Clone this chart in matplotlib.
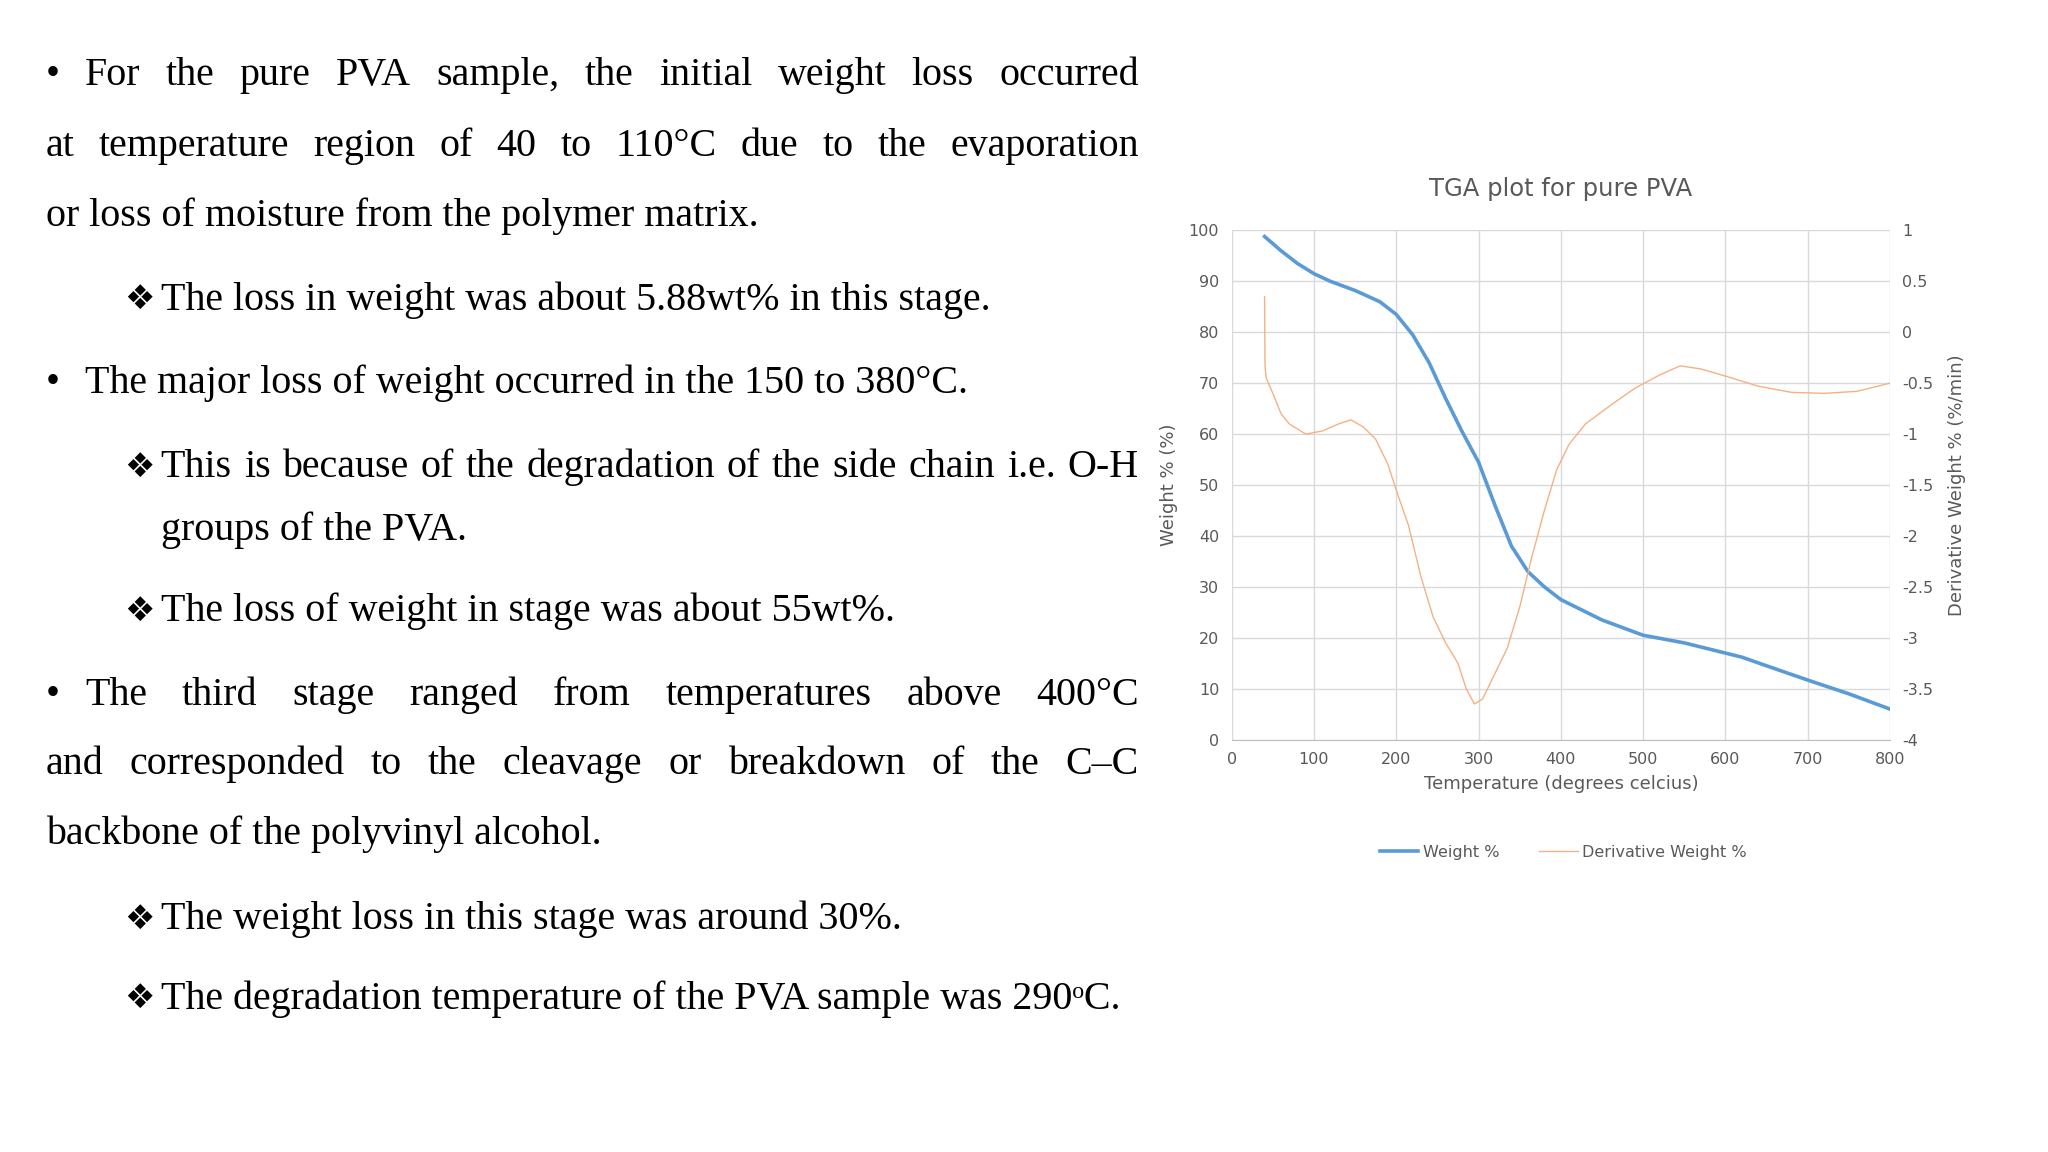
import matplotlib
matplotlib.use("Agg")
import matplotlib.pyplot as plt

temp_w = [40, 60, 80, 100, 120, 150, 180, 200, 220, 240, 260, 280, 300, 320, 340, 360, 380, 400, 450, 500, 550, 600, 620, 650, 700, 750, 800]
weight = [98.8, 96, 93.5, 91.5, 90, 88.2, 86, 83.5, 79.5, 74, 67, 60.5, 54.5, 46, 38, 33, 30, 27.5, 23.5, 20.5, 19, 17, 16.2, 14.5, 11.7, 9, 6]
temp_d = [40, 40.5, 42, 50, 60, 70, 90, 110, 130, 145, 160, 175, 190, 200, 215, 230, 245, 260, 275, 285, 295, 305, 320, 335, 350, 365, 380, 395, 410, 430, 460, 490, 520, 545, 570, 600, 640, 680, 720, 760, 800]
deriv = [0.35, -0.33, -0.45, -0.6, -0.8, -0.9, -1.0, -0.97, -0.9, -0.86, -0.93, -1.05, -1.3, -1.55, -1.9, -2.4, -2.8, -3.05, -3.25, -3.5, -3.65, -3.6, -3.35, -3.1, -2.7, -2.2, -1.75, -1.35, -1.1, -0.9, -0.72, -0.55, -0.42, -0.33, -0.36, -0.43, -0.53, -0.59, -0.6, -0.58, -0.5]
x_ticks = [0, 100, 200, 300, 400, 500, 600, 700, 800]
yl_ticks = [0, 10, 20, 30, 40, 50, 60, 70, 80, 90, 100]
yr_ticks = [-4, -3.5, -3, -2.5, -2, -1.5, -1, -0.5, 0, 0.5, 1]

paragraphs = [
    ("bullet", ["For the pure PVA sample, the initial weight loss occurred",
                "at temperature region of 40 to 110°C due to the evaporation",
                "or loss of moisture from the polymer matrix."]),
    ("sub", ["The loss in weight was about 5.88wt% in this stage."]),
    ("bullet", ["The major loss of weight occurred in the 150 to 380°C."]),
    ("sub", ["This is because of the degradation of the side chain i.e. O-H",
             "groups of the PVA."]),
    ("sub", ["The loss of weight in stage was about 55wt%."]),
    ("bullet", ["The third stage ranged from temperatures above 400°C",
                "and corresponded to the cleavage or breakdown of the C–C",
                "backbone of the polyvinyl alcohol."]),
    ("sub", ["The weight loss in this stage was around 30%."]),
    ("sub", ["The degradation temperature of the PVA sample was 290ᵒC."]),
]
line_y = [[58, 112, 165], [229], [293], [357, 405], [467], [531, 584, 637], [702], [763]]
justify = {(0, 0), (0, 1), (3, 0), (5, 0), (5, 1)}

W, H = 1568, 880
fig = plt.figure(figsize=(20.48, 11.52), dpi=100)
fig.patch.set_facecolor("white")
fs = 28.8
serif = ["Liberation Serif", "DejaVu Serif"]
fig.canvas.draw()
r = fig.canvas.get_renderer()

def place_line(txt, x0, x1, y, just):
    fy = 1 - y / H
    if not just:
        fig.text(x0 / W, fy, txt, fontsize=fs, family=serif, va="center", ha="left")
        return
    words = txt.split(" ")
    widths = []
    for w in words:
        t = fig.text(0, 0, w, fontsize=fs, family=serif)
        widths.append(t.get_window_extent(r).width / fig.bbox.width)
        t.remove()
    total = (x1 - x0) / W
    gap = (total - sum(widths)) / (len(words) - 1)
    x = x0 / W
    for w, wd in zip(words, widths):
        fig.text(x, fy, w, fontsize=fs, family=serif, va="center", ha="left")
        x += wd + gap

for i, (kind, lines) in enumerate(paragraphs):
    for j, (ln, y) in enumerate(zip(lines, line_y[i])):
        if kind == "bullet":
            if j == 0:
                fig.text(35 / W, 1 - y / H, "•", fontsize=fs, family=serif, va="center")
                place_line(ln, 65, 872, y, (i, j) in justify)
            else:
                place_line(ln, 35, 872, y, (i, j) in justify)
        else:
            if j == 0:
                fig.text(95 / W, 1 - y / H, "❖", fontsize=fs * 0.85, family=["DejaVu Sans"], va="center")
            place_line(ln, 123, 872, y, (i, j) in justify)

gray = "#595959"
ax = fig.add_axes([943 / W, 1 - 565 / H, (1447 - 943) / W, (565 - 176) / H])
ax2 = ax.twinx()
ax.plot(temp_w, weight, color="#5b9bd5", lw=2.6, label="Weight %", zorder=3)
ax2.plot(temp_d, deriv, color="#f4b183", lw=1.0, label="Derivative Weight %")
ax.set_xlim(0, 800); ax.set_ylim(0, 100); ax2.set_ylim(-4, 1)
ax.set_xticks(x_ticks); ax.set_yticks(yl_ticks); ax2.set_yticks(yr_ticks)
ax2.set_yticklabels([f"{v:g}" for v in yr_ticks])
ax.grid(True, color="#d9d9d9", lw=1)
ax.set_axisbelow(True)
for a in (ax, ax2):
    for s in a.spines.values():
        s.set_visible(False)
    a.tick_params(length=0, labelsize=11.5, colors=gray, pad=9)
ax.spines["bottom"].set_visible(True); ax.spines["bottom"].set_color("#bfbfbf")
ax.set_xlabel("Temperature (degrees celcius)", fontsize=13, color=gray, labelpad=6)
ax.set_ylabel("Weight % (%)", fontsize=13, color=gray, labelpad=8)
ax2.set_ylabel("Derivative Weight % (%/min)", fontsize=13, color=gray, labelpad=10)
ax.set_title("TGA plot for pure PVA", fontsize=17.5, color=gray, pad=25)
h1, l1 = ax.get_legend_handles_labels(); h2, l2 = ax2.get_legend_handles_labels()
fig.legend(h1 + h2, l1 + l2, loc="center", bbox_to_anchor=(1197 / W, 1 - 651 / H), ncol=2,
           frameon=False, fontsize=11.5, labelcolor=gray, handlelength=2.4, columnspacing=2.5, handletextpad=0.3)
fig.savefig("out.png", dpi=100, facecolor="white")
